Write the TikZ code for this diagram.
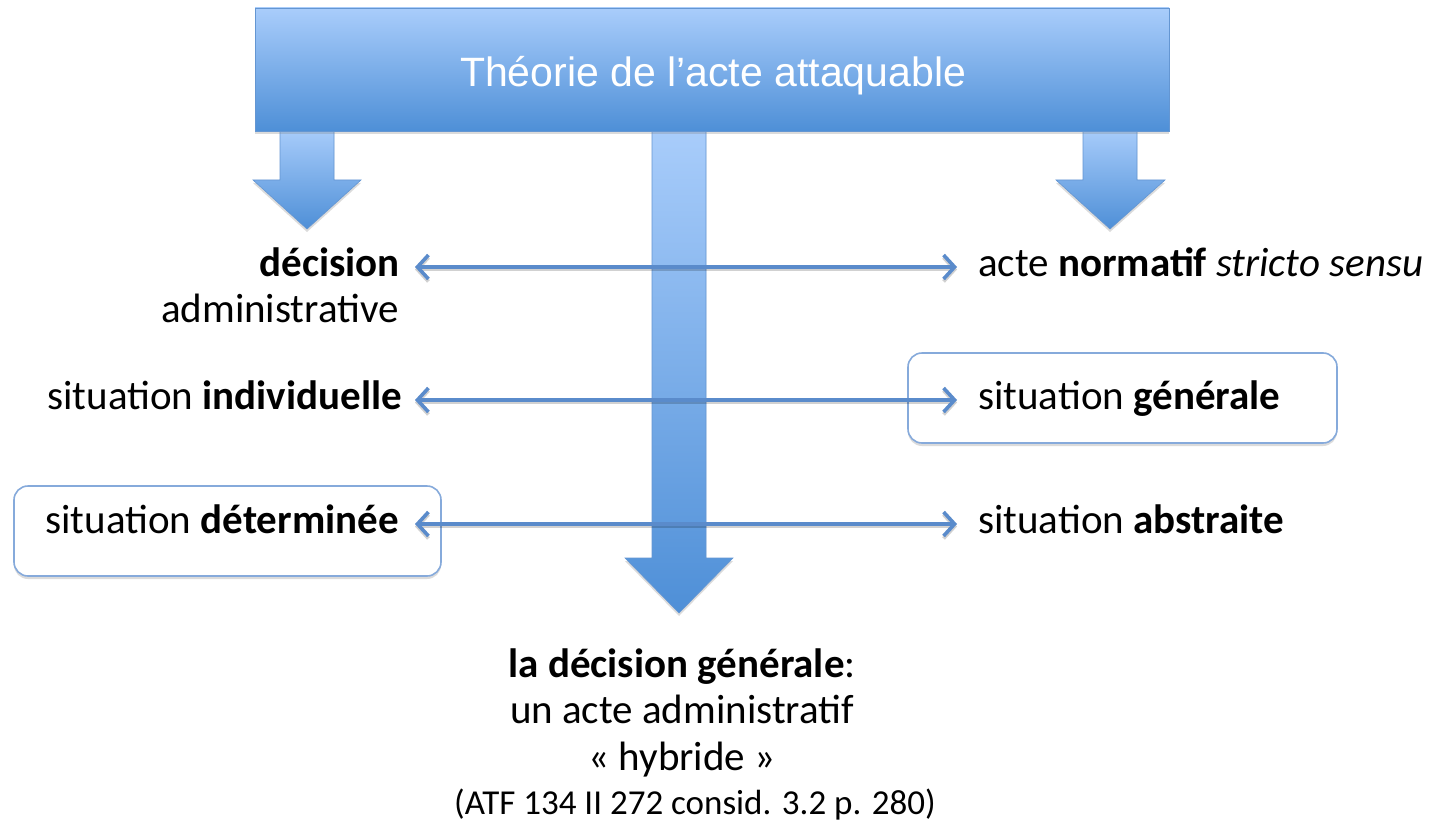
\documentclass[tikz,border=0pt]{standalone}
\usepackage{fontspec}
\setmainfont{Carlito}
\newfontfamily\titlefont{Liberation Sans}
\usetikzlibrary{arrows.meta,shadows}
\definecolor{gradTop}{HTML}{A9CDFB}
\definecolor{gradBot}{HTML}{4E8FD7}
\definecolor{blockEdge}{HTML}{6496D2}
\definecolor{lineBlue}{HTML}{5A8BCB}
\definecolor{boxEdge}{HTML}{86AADB}
\tikzset{
  softshadow/.style={drop shadow={opacity=0.28, shadow xshift=0pt, shadow yshift=-3pt}},
  blockshape/.style={top color=gradTop, bottom color=gradBot, draw=blockEdge, line width=0.6pt, softshadow},
  titlebox/.style={blockshape, rectangle, inner sep=0pt},
  roundbox/.style={rectangle, rounded corners=14pt, draw=boxEdge, line width=1.6pt, fill=white, softshadow, inner sep=0pt},
  txt/.style={inner sep=0pt, text height=19pt, text depth=0pt, font=\fontsize{41}{49}\selectfont},
  bottomtxt/.style={inner sep=0pt, anchor=base, font=\fontsize{41}{49}\selectfont},
  linkbase/.style={line width=3.6pt,
    {Straight Barb[length=11pt,width=24pt]}-{Straight Barb[length=11pt,width=24pt]},
    shorten >=21pt},
  linkarrow/.style={linkbase, draw=lineBlue},
  linkshadow/.style={linkbase, draw=black, opacity=0.18, transform canvas={yshift=-2.5pt}}
}
\begin{document}
\begin{tikzpicture}[x=1pt,y=-1pt]
\useasboundingbox (0,0) rectangle (1431,821);
\fill[white] (0,0) rectangle (1431,821);

% block arrows (behind the title)
\path[blockshape] (280,128) -- (334,128) -- (334,180) -- (361,180) -- (307,229) -- (253,180) -- (280,180) -- cycle;
\path[blockshape] (1083,128) -- (1137,128) -- (1137,180) -- (1165,180) -- (1110,229) -- (1056,180) -- (1083,180) -- cycle;
\path[blockshape] (652,128) -- (706,128) -- (706,558) -- (733,558) -- (679,613) -- (625,558) -- (652,558) -- cycle;

% title
\node[titlebox, minimum width=914pt, minimum height=123pt] (title) at (712,69.5) {};
\node[anchor=base, inner sep=0pt, text=white, font=\titlefont\fontsize{41}{49}\selectfont] (titletext) at (713,87) {Théorie de l’acte attaquable};

% boxes
\node[roundbox, minimum width=427pt, minimum height=90pt] (boxL) at (227.5,531) {};
\node[roundbox, minimum width=429pt, minimum height=90pt] (boxR) at (1122.5,398) {};

% left texts
\node[txt, anchor=east] (dec) at (400,267) {\textbf{décision}};
\node[txt, anchor=east] (adm) at (399,313) {administrative};
\node[txt, anchor=east] (ind) at (402,400) {situation \textbf{individuelle}};
\node[txt, anchor=east] (det) at (399,524) {situation \textbf{déterminée}};

% right texts
\node[txt, anchor=west] (norm) at (978,267) {acte \textbf{normatif} \textit{stricto sensu}};
\node[txt, anchor=west] (gen) at (978,400) {situation \textbf{générale}};
\node[txt, anchor=west] (abs) at (978,524) {situation \textbf{abstraite}};

% double arrows (soft shadow, then line)
\draw[linkshadow, shorten <=15pt] (dec.east) -- (norm.west);
\draw[linkshadow, shorten <=13pt] (ind.east) -- (gen.west);
\draw[linkshadow, shorten <=16pt] (det.east) -- (abs.west);
\draw[linkarrow, shorten <=15pt] (dec.east) -- (norm.west);
\draw[linkarrow, shorten <=13pt] (ind.east) -- (gen.west);
\draw[linkarrow, shorten <=16pt] (det.east) -- (abs.west);

% bottom text
\node[bottomtxt] (b1) at (682,677) {\textbf{la décision générale}:};
\node[bottomtxt] (b2) at (682,723) {un acte administratif};
\node[bottomtxt] (b3) at (682,770) {«~hybride~»};
\node[bottomtxt, font=\fontsize{35}{42}\selectfont] (b4) at (695,814) {(ATF 134 II 272 consid. 3.2 p. 280)};
\end{tikzpicture}
\end{document}
